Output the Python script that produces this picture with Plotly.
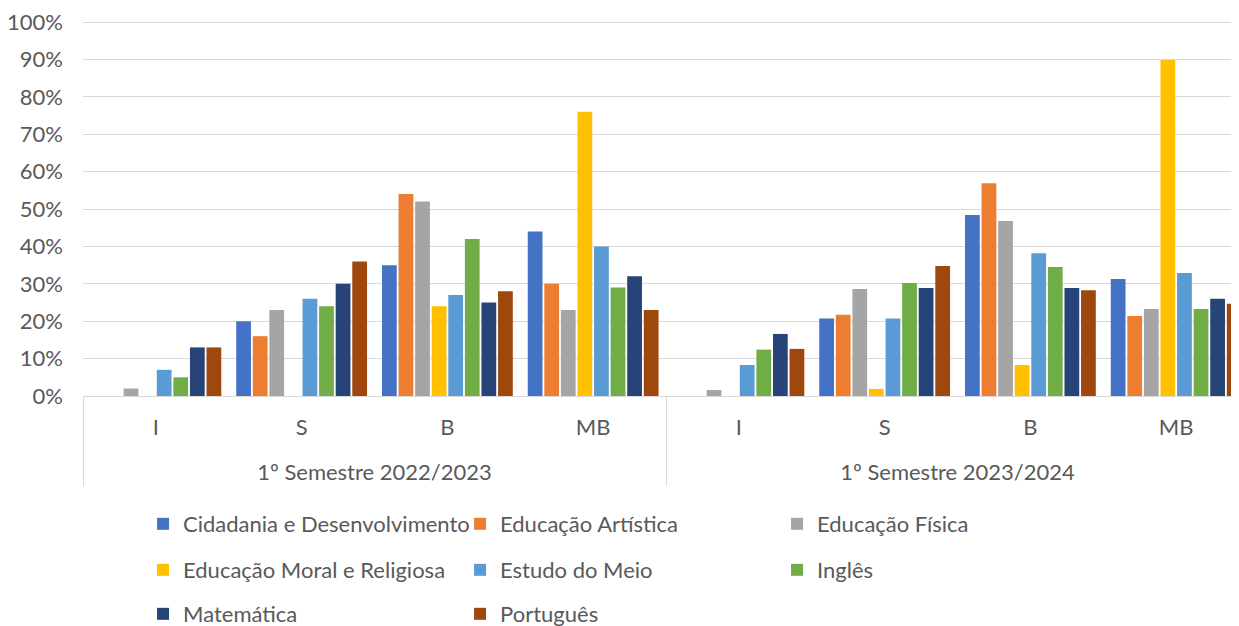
import plotly.graph_objects as go

# categories (two-level x axis)
semesters = ["1º Semestre 2022/2023", "1º Semestre 2023/2024"]
levels = ["I", "S", "B", "MB"]

# share of students per level, one list per subject (4 levels x 2 semesters)
cidadania = [0.00, 0.20, 0.35, 0.44, 0.000, 0.207, 0.484, 0.313]
ed_artistica = [0.00, 0.16, 0.54, 0.30, 0.000, 0.217, 0.569, 0.214]
ed_fisica = [0.02, 0.23, 0.52, 0.23, 0.016, 0.286, 0.468, 0.233]
ed_moral = [0.00, 0.00, 0.24, 0.76, 0.000, 0.019, 0.083, 0.899]
estudo_meio = [0.07, 0.26, 0.27, 0.40, 0.083, 0.207, 0.382, 0.329]
ingles = [0.05, 0.24, 0.42, 0.29, 0.124, 0.302, 0.345, 0.233]
matematica = [0.13, 0.30, 0.25, 0.32, 0.166, 0.289, 0.289, 0.260]
portugues = [0.13, 0.36, 0.28, 0.23, 0.126, 0.348, 0.283, 0.247]

subjects = [
    ("Cidadania e Desenvolvimento", cidadania, "#4472C4", "legend"),
    ("Educação Artística", ed_artistica, "#ED7D31", "legend"),
    ("Educação Física", ed_fisica, "#A5A5A5", "legend"),
    ("Educação Moral e Religiosa", ed_moral, "#FFC000", "legend2"),
    ("Estudo do Meio", estudo_meio, "#5B9BD5", "legend2"),
    ("Inglês", ingles, "#70AD47", "legend2"),
    ("Matemática", matematica, "#264478", "legend3"),
    ("Português", portugues, "#9E480E", "legend3"),
]

# a tall invisible space on each side of the level label makes that row taller,
# which pushes the semester row further down (Excel-like spacing)
pad = '<span style="font-size:46px">\u00a0</span>'
x_outer = [s for s in semesters for _ in levels]
x_inner = [pad + lv + pad for lv in levels] * len(semesters)

FONT = "Lato"
GREY = "#595959"
FSIZE = 22

fig = go.Figure()
for name, vals, color, leg in subjects:
    fig.add_trace(go.Bar(
        x=[x_outer, x_inner],
        y=vals,
        name=name,
        marker=dict(color=color, line=dict(width=0)),
        legend=leg,
    ))

# the page body adds an 8px margin, so everything is placed 8px up/left
legend_common = dict(
    orientation="h",
    xref="container",
    yref="container",
    x=0.109,
    xanchor="left",
    yanchor="middle",
    entrywidth=272,
    font=dict(family=FONT, size=FSIZE, color=GREY),
    bgcolor="rgba(0,0,0,0)",
    itemwidth=30,
)

fig.update_layout(
    width=1239,
    height=626,
    margin=dict(l=75, r=0, t=13, b=238),
    plot_bgcolor="white",
    paper_bgcolor="white",
    font=dict(family=FONT, size=FSIZE, color=GREY),
    barmode="group",
    bargap=0.09,
    bargroupgap=0.11,
    legend=dict(legend_common, y=0.1757),
    legend2=dict(legend_common, y=0.1022),
    legend3=dict(legend_common, y=0.0319),
    xaxis=dict(
        type="multicategory",
        range=[-0.5, 7.486],
        automargin=False,
        showgrid=False,
        showline=True,
        linecolor="#D9D9D9",
        linewidth=1,
        showdividers=True,
        dividercolor="#D9D9D9",
        dividerwidth=1,
        ticks="",
        ticklabelstandoff=12,
        tickfont=dict(family=FONT, size=FSIZE, color=GREY),
    ),
    yaxis=dict(
        range=[0, 1.003],
        tickvals=[i / 10 for i in range(11)],
        tickformat=".0%",
        automargin=False,
        ticklabeloverflow="allow",
        showgrid=True,
        gridcolor="#D9D9D9",
        gridwidth=1,
        zeroline=False,
        showline=False,
        ticklabelstandoff=19,
        tickfont=dict(family=FONT, size=FSIZE, color=GREY),
    ),
)

fig.write_html("out.html")
